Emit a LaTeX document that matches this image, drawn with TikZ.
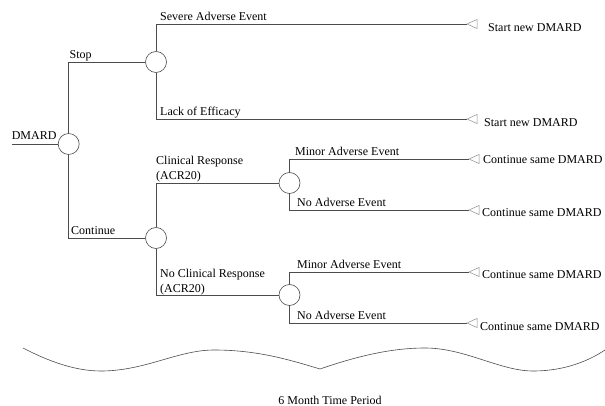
\documentclass[tikz,border=0pt]{standalone}
\usepackage{fontspec}
\setmainfont{Liberation Serif}
\begin{document}
\begin{tikzpicture}[x=1pt,y=-1pt,
  ln/.style={draw=black!70,line width=0.6pt},
  chance/.style={circle,draw=black!70,line width=0.6pt,minimum size=21pt,inner sep=0pt,fill=white},
  lbl/.style={anchor=base west,inner sep=0pt,font=\fontsize{12}{14}\selectfont},
  tri/.style={draw=black!45,line width=0.5pt,line join=miter},
  every node/.style={text=black}]
\useasboundingbox (0,0) rectangle (605,406);

% chance nodes
\node[chance] (root) at (68.7,144) {};
\node[chance] (stop) at (156,62) {};
\node[chance] (cont) at (156,238) {};
\node[chance] (cr) at (289.5,183) {};
\node[chance] (ncr) at (289.5,295) {};

% terminal points
\coordinate (t1) at (467,24);
\coordinate (t2) at (467,119);
\coordinate (t3) at (469,159);
\coordinate (t4) at (469,210);
\coordinate (t5) at (469,272);
\coordinate (t6) at (467,323);
\coordinate (din) at (11.6,144);

% connectors
\draw[ln] (din) -- (root);
\draw[ln] (root) |- (stop);
\draw[ln] (root) |- (cont);
\draw[ln] (stop) |- (t1);
\draw[ln] (stop) |- (t2);
\draw[ln] (cont) |- (cr);
\draw[ln] (cont) |- (ncr);
\draw[ln] (cr) |- (t3);
\draw[ln] (cr) |- (t4);
\draw[ln] (ncr) |- (t5);
\draw[ln] (ncr) |- (t6);

% terminal triangles
\foreach \t in {t1,t2,t3,t4,t5,t6}{
  \draw[tri] (\t) -- ++(10,-4.5) -- ++(0,9) -- cycle;
}

% branch labels
\node[lbl] (lroot) at (11.6,140) {DMARD};
\node[lbl] (lstop) at (69.5,58.5) {Stop};
\node[lbl] (lcont) at (71,234.5) {Continue};
\node[lbl] (lsae) at (160,20.5) {Severe Adverse Event};
\node[lbl] (lloe) at (160,116) {Lack of Efficacy};
\node[lbl] (lcr1) at (156,165) {Clinical Response};
\node[lbl] (lcr2) at (156,180) {(ACR20)};
\node[lbl] (lncr1) at (160,277.5) {No Clinical Response};
\node[lbl] (lncr2) at (160,292) {(ACR20)};
\node[lbl] (lmae1) at (295,155.5) {Minor Adverse Event};
\node[lbl] (lnae1) at (297,206.5) {No Adverse Event};
\node[lbl] (lmae2) at (297,268.5) {Minor Adverse Event};
\node[lbl] (lnae2) at (297,319.5) {No Adverse Event};

% outcome labels
\node[lbl] (o1) at (488,32) {Start new DMARD};
\node[lbl] (o2) at (484,127) {Start new DMARD};
\node[lbl] (o3) at (483,164) {Continue same DMARD};
\node[lbl] (o4) at (482,217) {Continue same DMARD};
\node[lbl] (o5) at (482,278) {Continue same DMARD};
\node[lbl] (o6) at (480,330) {Continue same DMARD};

% brace-like wave
\draw[ln] (23,348) .. controls (50,362) and (76,371) .. (101,371)
  .. controls (145,371) and (178,350) .. (214,350)
  .. controls (258,350) and (290,360) .. (320,369)
  .. controls (352,358) and (388,348) .. (425,348)
  .. controls (465,348) and (500,371) .. (533,371)
  .. controls (566,371) and (590,360) .. (605,350);

\node[anchor=base,inner sep=0pt,font=\fontsize{12}{14}\selectfont] (period) at (330,404) {6 Month Time Period};
\end{tikzpicture}
\end{document}
